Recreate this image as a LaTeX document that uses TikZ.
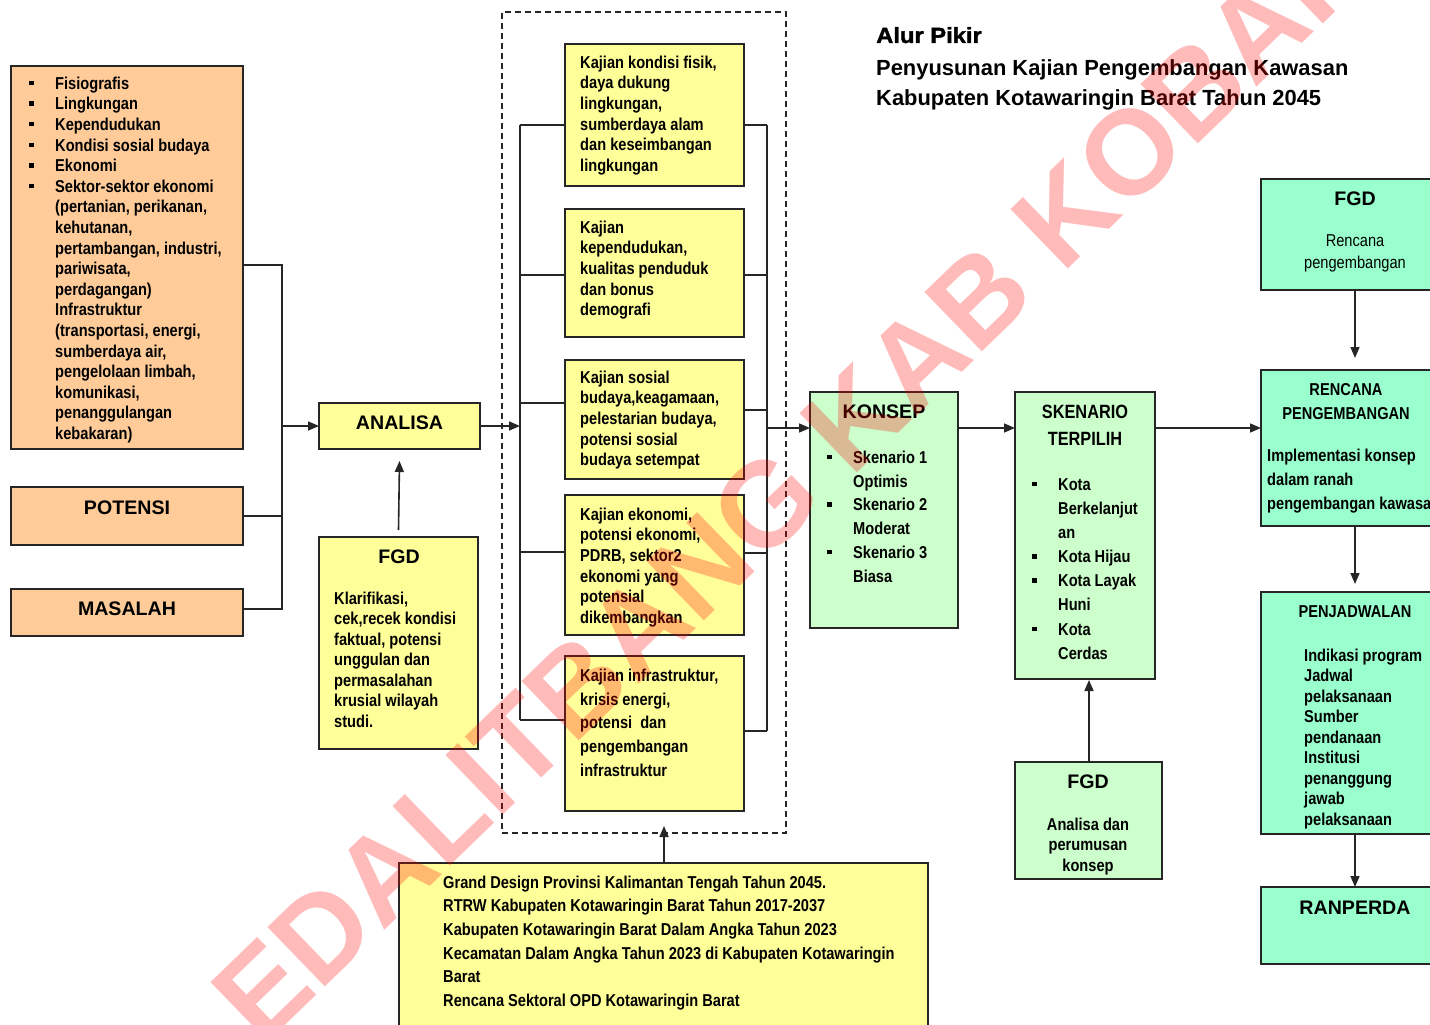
\documentclass[tikz,border=0pt]{standalone}
\usepackage{fontspec}
\setmainfont{Liberation Sans}
\newfontfamily\nb[FakeStretch=0.85]{Liberation Sans}
\newfontfamily\heavy[FakeStretch=1.08,FakeBold=1.6]{Liberation Sans}
\usetikzlibrary{arrows.meta,calc}
\definecolor{peach}{HTML}{FFCC99}
\definecolor{lemon}{HTML}{FFFF99}
\definecolor{pale}{HTML}{CCFFCC}
\definecolor{mint}{HTML}{99FFCC}
\definecolor{ink}{HTML}{262626}
\tikzset{
  bx/.style={draw=ink, line width=1.5pt, inner sep=0pt, outer sep=0pt, anchor=north west},
  hd/.style={anchor=base, inner sep=0pt, font=\bfseries\fontsize{19.6}{24}\selectfont},
  tx/.style={anchor=north west, inner sep=0pt, align=left, font=\nb\bfseries\fontsize{17.2}{#1}\selectfont},
  tx/.default=20.6,
  link/.style={draw=ink, line width=1.6pt},
  arr/.style={link, -{Triangle[length=11pt,width=9pt]}},
  wm/.style={text=red, opacity=0.27, inner sep=0pt, font=\bfseries\fontsize{120}{122}\selectfont},
}
\newcommand\sq{\llap{\rule[4pt]{4.5pt}{4.5pt}\hspace{21.5pt}}}
\newcommand\tp{\rule{0pt}{13pt}}
\begin{document}
\begin{tikzpicture}[x=1pt,y=-1pt]
\useasboundingbox (0,0) rectangle (1430,1025);
\clip (0,0) rectangle (1430,1025);

% title
\node[anchor=base west, inner sep=0pt, font=\heavy\bfseries\fontsize{22}{26}\selectfont] (ttl1) at (876,43) {Alur Pikir};
\node[anchor=base west, inner sep=0pt, font=\bfseries\fontsize{21.9}{26}\selectfont] (ttl2) at (876,75) {Penyusunan Kajian Pengembangan Kawasan};
\node[anchor=base west, inner sep=0pt, font=\bfseries\fontsize{21.9}{26}\selectfont] (ttl3) at (876,105) {Kabupaten Kotawaringin Barat Tahun 2045};

% left column
\node[bx, fill=peach, minimum width=232pt, minimum height=383pt] (lst) at (11,66) {};
\node[tx] (lstT) at (55,76) {\tp\sq Fisiografis\\
\sq Lingkungan\\
\sq Kependudukan\\
\sq Kondisi sosial budaya\\
\sq Ekonomi\\
\sq Sektor-sektor ekonomi\\
(pertanian, perikanan,\\
kehutanan,\\
pertambangan, industri,\\
pariwisata,\\
perdagangan)\\
Infrastruktur\\
(transportasi, energi,\\
sumberdaya air,\\
pengelolaan limbah,\\
komunikasi,\\
penanggulangan\\
kebakaran)};
\node[bx, fill=peach, minimum width=232pt, minimum height=58pt] (pot) at (11,487) {};
\node[hd] (potT) at (127,514) {POTENSI};
\node[bx, fill=peach, minimum width=232pt, minimum height=47pt] (mas) at (11,589) {};
\node[hd] (masT) at (127,615) {MASALAH};

% analysis
\node[bx, fill=lemon, minimum width=161pt, minimum height=46pt] (ana) at (319,403) {};
\node[hd] (anaT) at (399.5,429) {ANALISA};
\node[bx, fill=lemon, minimum width=159pt, minimum height=212pt] (fgdA) at (319,537) {};
\node[hd] (fgdAT) at (399,563) {FGD};
\node[tx=20.5] (fgdAX) at (334,591) {\tp Klarifikasi,\\
cek,recek kondisi\\
faktual, potensi\\
unggulan dan\\
permasalahan\\
krusial wilayah\\
studi.};

% studies group
\node[bx, dashed, dash pattern=on 6pt off 4pt, line width=1.3pt, minimum width=284pt, minimum height=821pt] (grp) at (502,12) {};
\node[bx, fill=lemon, minimum width=179pt, minimum height=142pt] (k1) at (565,44) {};
\node[tx] (k1T) at (580,55) {\tp Kajian kondisi fisik,\\
daya dukung\\
lingkungan,\\
sumberdaya alam\\
dan keseimbangan\\
lingkungan};
\node[bx, fill=lemon, minimum width=179pt, minimum height=128pt] (k2) at (565,209) {};
\node[tx] (k2T) at (580,220) {\tp Kajian\\
kependudukan,\\
kualitas penduduk\\
dan bonus\\
demografi};
\node[bx, fill=lemon, minimum width=179pt, minimum height=119pt] (k3) at (565,360) {};
\node[tx] (k3T) at (580,370) {\tp Kajian sosial\\
budaya,keagamaan,\\
pelestarian budaya,\\
potensi sosial\\
budaya setempat};
\node[bx, fill=lemon, minimum width=179pt, minimum height=140pt] (k4) at (565,495) {};
\node[tx] (k4T) at (580,507) {\tp Kajian ekonomi,\\
potensi ekonomi,\\
PDRB, sektor2\\
ekonomi yang\\
potensial\\
dikembangkan};
\node[bx, fill=lemon, minimum width=179pt, minimum height=155pt] (k5) at (565,656) {};
\node[tx=23.8] (k5T) at (580,668) {\tp Kajian infrastruktur,\\
krisis energi,\\
potensi\ \ dan\\
pengembangan\\
infrastruktur};

% sources
\node[bx, fill=lemon, minimum width=529pt, minimum height=180pt] (src) at (399,863) {};
\node[tx=23.6] (srcT) at (443,875) {\tp Grand Design Provinsi Kalimantan Tengah Tahun 2045.\\
RTRW Kabupaten Kotawaringin Barat Tahun 2017-2037\\
Kabupaten Kotawaringin Barat Dalam Angka Tahun 2023\\
Kecamatan Dalam Angka Tahun 2023 di Kabupaten Kotawaringin\\
Barat\\
Rencana Sektoral OPD Kotawaringin Barat};

% concept
\node[bx, fill=pale, minimum width=148pt, minimum height=236pt] (kon) at (810,392) {};
\node[hd] (konT) at (884,418) {KONSEP};
\node[tx=23.8] (konX) at (853,450) {\tp\sq Skenario 1\\
Optimis\\
\sq Skenario 2\\
Moderat\\
\sq Skenario 3\\
Biasa};

% chosen scenario
\node[bx, fill=pale, minimum width=140pt, minimum height=287pt] (sken) at (1015,392) {};
\node[anchor=north, inner sep=0pt, align=center, font=\nb\bfseries\fontsize{19.2}{27}\selectfont] (skenT) at (1085,404) {\rule{0pt}{14pt}SKENARIO\\TERPILIH};
\node[tx=24.14] (skenX) at (1058,477) {\tp\sq Kota\\
Berkelanjut\\
an\\
\sq Kota Hijau\\
\sq Kota Layak\\
Huni\\
\sq Kota\\
Cerdas};
\node[bx, fill=pale, minimum width=147pt, minimum height=117pt] (fgdK) at (1015,762) {};
\node[hd] (fgdKT) at (1088,788) {FGD};
\node[anchor=north, inner sep=0pt, align=center, font=\nb\bfseries\fontsize{17.2}{20.5}\selectfont] (fgdKX) at (1088,817) {\tp Analisa dan\\perumusan\\konsep};

% right column
\node[bx, fill=mint, minimum width=188pt, minimum height=111pt] (fgdR) at (1261,179) {};
\node[hd] (fgdRT) at (1355,205) {FGD};
\node[anchor=north, inner sep=0pt, align=center, font=\nb\fontsize{17.2}{22}\selectfont] (fgdRX) at (1355,233) {\tp Rencana\\pengembangan};
\node[bx, fill=mint, minimum width=188pt, minimum height=156pt] (ren) at (1261,370) {};
\node[anchor=north, inner sep=0pt, align=center, font=\nb\bfseries\fontsize{17.2}{24}\selectfont] (renT) at (1346,382) {\tp RENCANA\\PENGEMBANGAN};
\node[tx=24] (renX) at (1267,448) {\tp Implementasi konsep\\
dalam ranah\\
pengembangan kawasan};
\node[bx, fill=mint, minimum width=188pt, minimum height=242pt] (jad) at (1261,592) {};
\node[anchor=base, inner sep=0pt, font=\nb\bfseries\fontsize{17.2}{20}\selectfont] (jadT) at (1355,617) {PENJADWALAN};
\node[tx=20.5] (jadX) at (1304,648) {\tp Indikasi program\\
Jadwal\\
pelaksanaan\\
Sumber\\
pendanaan\\
Institusi\\
penanggung\\
jawab\\
pelaksanaan};
\node[bx, fill=mint, minimum width=188pt, minimum height=77pt] (rap) at (1261,887) {};
\node[hd] (rapT) at (1355,914) {RANPERDA};

% left bus into ANALISA
\coordinate (lbTop) at (282,265);
\coordinate (lbBot) at (282,609);
\draw[link] (lst.east |- lbTop) -- (lbTop) -- (lbBot) -- (mas.east |- lbBot);
\draw[link] (pot.east) -- (pot.east -| lbTop);
\draw[arr] (ana.west -| lbTop) -- (ana.west);
\draw[arr] ($(fgdA.north)+(0,-7)$) -- ($(ana.south)+(0,12)$);

% bus into the studies
\coordinate (kl1) at (520,125);
\coordinate (kl2) at (520,275);
\coordinate (kl3) at (520,403);
\coordinate (kl4) at (520,552);
\coordinate (kl5) at (520,720);
\draw[link] (kl1) -- (kl5);
\foreach \i in {1,...,5} \draw[link] (kl\i) -- (kl\i -| k\i.west);
\draw[arr] (ana.east) -- (ana.east -| kl1);

% bus out of the studies
\coordinate (kr1) at (767,125);
\coordinate (kr2) at (767,275);
\coordinate (kr3) at (767,410);
\coordinate (kr4) at (767,553);
\coordinate (kr5) at (767,731);
\coordinate (krOut) at (767,428);
\draw[link] (kr1) -- (kr5);
\foreach \i in {1,...,5} \draw[link] (kr\i -| k\i.east) -- (kr\i);
\draw[arr] (krOut) -- (krOut -| kon.west);
\draw[arr] (src.north -| 664,0) -- ($(grp.south -| 664,0)+(0,-7)$);

% main flow
\draw[arr] (kon.east |- krOut) -- (sken.west |- krOut);
\draw[arr] (sken.east |- krOut) -- (ren.west |- krOut);
\draw[arr] (fgdK.north -| 1089,0) -- ($(sken.south -| 1089,0)+(0,1)$);
\draw[arr] (fgdR.south -| 1355,0) -- ($(ren.north -| 1355,0)+(0,-12)$);
\draw[arr] (ren.south -| 1355,0) -- ($(jad.north -| 1355,0)+(0,-8)$);
\draw[arr] (jad.south -| 1355,0) -- (rap.north -| 1355,0);

% watermark
\node[wm, rotate=44, anchor=base west] (mark) at (262,1048) {EDALITBANG KAB KOBAR};
\end{tikzpicture}
\end{document}
